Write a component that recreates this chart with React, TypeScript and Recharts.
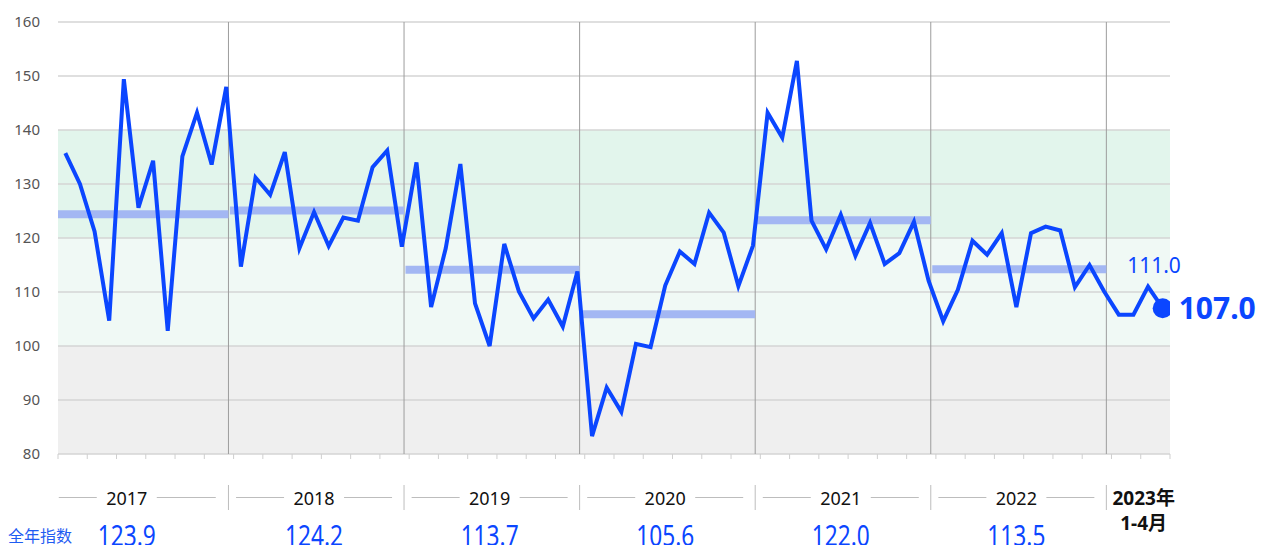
import React from "react";
import { ComposedChart, Line, XAxis, YAxis, ReferenceLine, ReferenceArea } from "recharts";

// monthly index, Jan..Dec
const years = ["2017", "2018", "2019", "2020", "2021", "2022"];
const m2017 = [135.7, 130.0, 121.2, 104.7, 149.4, 125.6, 134.3, 102.8, 135.1, 143.2, 133.6, 148.0];
const m2018 = [114.7, 131.2, 128.0, 135.9, 118.1, 124.8, 118.5, 123.8, 123.2, 133.1, 136.2, 118.4];
const m2019 = [134.0, 107.2, 118.1, 133.7, 107.9, 100.0, 118.9, 110.1, 105.1, 108.6, 103.6, 113.8];
const m2020 = [83.3, 92.3, 87.8, 100.4, 99.8, 111.2, 117.5, 115.2, 124.7, 121.0, 111.1, 118.6];
const m2021 = [143.2, 138.6, 152.8, 123.2, 117.9, 124.3, 116.7, 122.8, 115.2, 117.2, 123.0, 112.1];
const m2022 = [104.6, 110.4, 119.5, 116.9, 120.9, 107.2, 120.9, 122.1, 121.4, 110.9, 115.0, 110.1];
const m2023 = [105.8, 105.8, 111.0, 107.0];

// full-year index (label) and the level its bar is drawn at
const annualIndex = [123.9, 124.2, 113.7, 105.6, 122.0, 113.5];
const annualBar = [124.4, 125.1, 114.1, 105.9, 123.3, 114.2];

const yTicks = [80, 90, 100, 110, 120, 130, 140, 150, 160];
const rowTitle = "全年指数";
const lastYear = "2023年";
const lastMonths = "1-4月";

const BLUE = "#0b46ff";
const FONT = "'Noto Sans', 'Noto Sans CJK SC', sans-serif";

const monthly = [m2017, m2018, m2019, m2020, m2021, m2022, m2023];
const data = monthly.flatMap((arr, k) =>
  arr.map((value, m) => ({ i: 12 * k + m, month: `${2017 + k}-${m + 1}`, value }))
);
const lastIdx = data.length - 1;

// year divider sits just after the December point
const yearEnds = years.map((_, k) => 12 * k + 11.15);
const yearCenters = years.map((_, k) => (k === 0 ? 4.2 : 12 * k + 5));
const lastCenter = 73.7;
const monthTicks = Array.from({ length: 39 }, (_, k) => -0.5 + 2 * k);
const xTicks = [...monthTicks, ...yearEnds, ...yearCenters, lastCenter].sort((a, b) => a - b);

function BottomTick(props: any) {
  const { x, y, payload } = props;
  const v = payload.value;
  const k = yearCenters.indexOf(v);
  if (k >= 0) {
    const l0 = k === 0 ? x - 68 : x - 78;
    const r1 = k === 0 ? x + 89 : x + 78;
    return (
      <g>
        <line x1={l0} x2={x - 30} y1={y + 43.5} y2={y + 43.5} stroke="#bdbdbd" />
        <line x1={x + 30} x2={r1} y1={y + 43.5} y2={y + 43.5} stroke="#bdbdbd" />
        <text x={x} y={y + 51} textAnchor="middle" fontSize={18} fill="#111" fontFamily={FONT}>
          {years[k]}
        </text>
        <text x={x} y={y + 92} textAnchor="middle" fontSize={29} textLength={58}
          lengthAdjust="spacingAndGlyphs" fill={BLUE} fontFamily={FONT}>
          {annualIndex[k].toFixed(1)}
        </text>
        {k === 0 && (
          <text x={8} y={y + 88} fontSize={16} fill="#1f5cf2" fontFamily={FONT}>{rowTitle}</text>
        )}
      </g>
    );
  }
  if (yearEnds.includes(v)) {
    return <line x1={x} x2={x} y1={y + 31} y2={y + 56} stroke="#bdbdbd" />;
  }
  if (v === lastCenter) {
    return (
      <g fontFamily={FONT} fontWeight="bold" fontSize={19} fill="#111" textAnchor="middle">
        <text x={x} y={y + 51}>{lastYear}</text>
        <text x={x} y={y + 76}>{lastMonths}</text>
      </g>
    );
  }
  return <line x1={x} x2={x} y1={y} y2={y + 5} stroke="#cfcfcf" />;
}

function EndDot(props: any) {
  const { cx, cy, index } = props;
  if (index !== lastIdx) return <g key={`d${index}`} />;
  return <circle key={`d${index}`} cx={cx} cy={cy} r={10} fill={BLUE} />;
}

function EndLabel(props: any) {
  const { x, y, index, value } = props;
  if (index === lastIdx - 1) {
    return (
      <text x={x + 6} y={y - 13.5} textAnchor="middle" fontSize={21} fill={BLUE} fontFamily={FONT}>
        {Number(value).toFixed(1)}
      </text>
    );
  }
  if (index === lastIdx) {
    return (
      <text x={x + 16} y={y + 11} fontSize={30} fontWeight="bold" fill={BLUE} fontFamily={FONT}>
        {Number(value).toFixed(1)}
      </text>
    );
  }
  return null;
}

export default function App() {
  return (
    <div style={{ position: "absolute", left: 0, top: 0, width: 1262, height: 545, background: "#fff", fontFamily: FONT }}>
      <ComposedChart width={1262} height={545} data={data} margin={{ top: 22, right: 92, bottom: 0, left: 0 }}>
        <XAxis
          dataKey="i"
          type="number"
          domain={[-0.5, 75.5]}
          allowDataOverflow
          ticks={xTicks}
          interval={0}
          height={91}
          tickSize={0}
          tickMargin={0}
          axisLine={false}
          tickLine={false}
          tick={<BottomTick />}
        />
        <YAxis
          type="number"
          domain={[80, 160]}
          ticks={yTicks}
          width={58}
          axisLine={false}
          tickLine={false}
          tickMargin={12}
          tick={{ fontSize: 15, fill: "#555", fontFamily: FONT }}
        />
        <ReferenceArea y1={120} y2={140} fill="#e2f5ec" fillOpacity={1} stroke="none" />
        <ReferenceArea y1={100} y2={120} fill="#f0f9f5" fillOpacity={1} stroke="none" />
        <ReferenceArea y1={80} y2={100} fill="#efefef" fillOpacity={1} stroke="none" />
        {yTicks.map((t) => (
          <ReferenceLine key={`g${t}`} y={t} stroke="#d4d4d4" strokeWidth={1.5} />
        ))}
        {yearEnds.map((e) => (
          <ReferenceLine key={`v${e}`} x={e} stroke="#9c9c9c" strokeWidth={1} />
        ))}
        {annualBar.map((lv, k) => (
          <ReferenceLine
            key={`b${k}`}
            segment={[
              { x: k === 0 ? -0.5 : yearEnds[k - 1] + 0.1, y: lv },
              { x: yearEnds[k], y: lv },
            ]}
            stroke="#a3b7f3"
            strokeWidth={8}
          />
        ))}
        <Line
          type="linear"
          dataKey="value"
          stroke={BLUE}
          strokeWidth={4}
          dot={<EndDot />}
          activeDot={false}
          label={<EndLabel />}
          isAnimationActive={false}
        />
      </ComposedChart>
    </div>
  );
}
